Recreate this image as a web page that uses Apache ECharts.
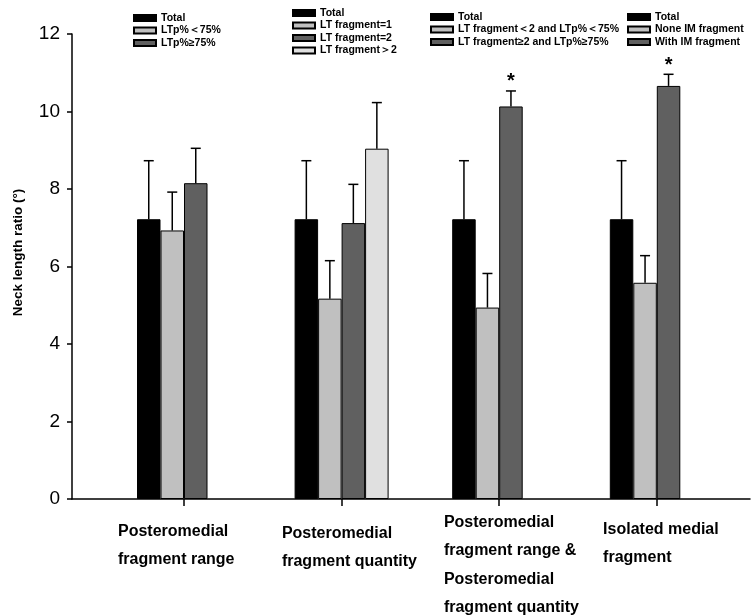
<!DOCTYPE html>
<html><head><meta charset="utf-8">
<script src="https://cdn.jsdelivr.net/npm/echarts@6/dist/echarts.min.js"></script>
<style>html,body{margin:0;padding:0;background:#fff}#c{width:756px;height:616px}</style>
</head><body><div id="c"></div>
<script>
const categories = [
  'Posteromedial\nfragment range',
  'Posteromedial\nfragment quantity',
  'Posteromedial\nfragment range &\nPosteromedial\nfragment quantity',
  'Isolated medial\nfragment'
];
const legendNames = [
  ['Total', 'LTp%＜75%', 'LTp%≥75%'],
  ['Total', 'LT fragment=1', 'LT fragment=2', 'LT fragment＞2'],
  ['Total', 'LT fragment＜2 and LTp%＜75%', 'LT fragment≥2 and LTp%≥75%'],
  ['Total', 'None IM fragment', 'With IM fragment']
];
const totalMean = [7.22, 7.22, 7.22, 7.22];
const totalErr = [1.51, 1.51, 1.51, 1.51];
const sub1Mean = [6.93, 5.17, 4.94, 5.58];
const sub1Err = [0.99, 0.98, 0.88, 0.70];
const sub2Mean = [8.15, 7.12, 10.13, 10.66];
const sub2Err = [0.90, 1.00, 0.40, 0.30];
const sub3Mean = [null, 9.04, null, null];
const sub3Err = [null, 1.19, null, null];
const sub2Significance = ['', '', '*', '*'];
const yMin = 0, yMax = 12, yStep = 2;
const yAxisName = 'Neck length ratio (°)';

const COLORS = ['#000000', '#c0c0c0', '#606060', '#e0e0e0'];
const FONT = 'Liberation Sans, Arial, sans-serif';
const BAR_W = 23.5;
const TOP = 34, BOTTOM = 117;
const GRID_LEFT0 = 105.2, GRID_W = 157.6;
const labelLeftOffset = [66, 59.7, 55.3, 53.7];
const labelMargin = [18, 20, 9.5, 16];
const legendPos = [[133, 12], [292, 7], [430, 11], [627, 11]];

const means = [totalMean, sub1Mean, sub2Mean, sub3Mean];
const errs = [totalErr, sub1Err, sub2Err, sub3Err];

const grids = [{left: 72, right: 6, top: TOP, bottom: BOTTOM}];
const xAxes = [{
  type: 'value', gridIndex: 0, min: 0, max: 1,
  axisLine: {show: true, lineStyle: {color: '#000', width: 1.5}},
  axisTick: {show: false}, axisLabel: {show: false}, splitLine: {show: false}
}];
const yAxes = [{
  type: 'value', gridIndex: 0, min: yMin, max: yMax, interval: yStep,
  name: yAxisName, nameLocation: 'middle', nameGap: 47,
  nameTextStyle: {fontFamily: FONT, fontSize: 13.5, fontWeight: 'bold', color: '#000', padding: [0, 0, 0, 28]},
  axisLine: {show: true, lineStyle: {color: '#000', width: 1.5}},
  axisTick: {show: true, length: 5, lineStyle: {color: '#000', width: 1.5}},
  axisLabel: {fontFamily: FONT, fontSize: 19, color: '#000', margin: 12},
  splitLine: {show: false}
}];
const series = [];
const legends = [];

for (let g = 0; g < 4; g++) {
  const gi = g + 1;
  grids.push({left: GRID_LEFT0 + g * GRID_W, width: GRID_W, top: TOP, bottom: BOTTOM});
  const W = 2 * labelLeftOffset[g];
  xAxes.push({
    type: 'category', gridIndex: gi, data: [categories[g]],
    axisLine: {show: false},
    axisTick: {show: true, alignWithLabel: true, length: 7, lineStyle: {color: '#000', width: 1.5}},
    axisLabel: {
      interval: 0, margin: labelMargin[g],
      formatter: v => v.split('\n').map(s => '{a|' + s + '}').join('\n'),
      rich: {a: {width: W, align: 'left', fontFamily: FONT, fontSize: 16, fontWeight: 'bold', color: '#000', lineHeight: 28.3}}
    }
  });
  yAxes.push({type: 'value', gridIndex: gi, min: yMin, max: yMax, show: false});

  const errData = [];
  for (let s = 0; s < 4; s++) {
    const v = means[s][g];
    const name = s < legendNames[g].length ? legendNames[g][s] : ('_empty' + g);
    series.push({
      type: 'bar', name: name, xAxisIndex: gi, yAxisIndex: gi,
      data: [v], barWidth: BAR_W, barGap: '0%',
      itemStyle: {color: COLORS[s], borderColor: '#000', borderWidth: 1},
      emphasis: {disabled: true}
    });
    if (v != null) errData.push([0, v, errs[s][g], s, (s === 2 && sub2Significance[g]) ? 1 : 0]);
  }
  const sigText = sub2Significance[g];
  series.push({
    type: 'custom', xAxisIndex: gi, yAxisIndex: gi, z: 5, silent: true,
    data: errData,
    renderItem: (params, api) => {
      const slot = api.value(3);
      const mean = api.value(1), err = api.value(2);
      const base = api.coord([api.value(0), mean]);
      const top = api.coord([api.value(0), mean + err]);
      const x = base[0] + (slot - 1.5) * BAR_W;
      const children = [
        {type: 'line', shape: {x1: x, y1: base[1], x2: x, y2: top[1]}, style: {stroke: '#000', lineWidth: 1.5}},
        {type: 'line', shape: {x1: x - 5, y1: top[1], x2: x + 5, y2: top[1]}, style: {stroke: '#000', lineWidth: 1.5}}
      ];
      if (api.value(4) === 1) {
        children.push({type: 'text', style: {text: sigText, x: x, y: top[1] - 9, align: 'center', verticalAlign: 'middle',
          font: 'bold 20px ' + FONT, fill: '#000'}});
      }
      return {type: 'group', children: children};
    }
  });
  legends.push({
    orient: 'vertical', left: legendPos[g][0], top: legendPos[g][1], padding: 0,
    data: legendNames[g], icon: 'rect', itemWidth: 22, itemHeight: 6, itemGap: 0.5,
    selectedMode: false,
    textStyle: {fontFamily: FONT, fontSize: 10.5, fontWeight: 'bold', color: '#000', lineHeight: 12}
  });
}

const chart = echarts.init(document.getElementById('c'), null, {renderer: 'canvas'});
chart.setOption({
  animation: false,
  backgroundColor: '#fff',
  grid: grids, xAxis: xAxes, yAxis: yAxes, legend: legends, series: series
});
</script></body></html>
